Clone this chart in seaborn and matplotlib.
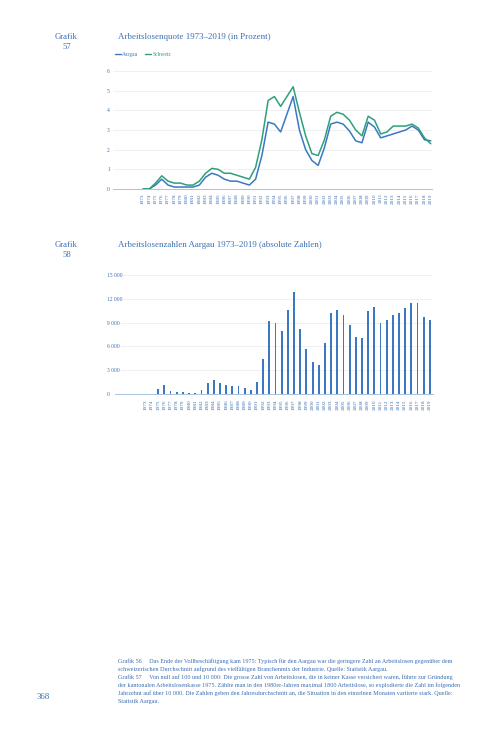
import pandas as pd
import matplotlib.pyplot as plt
import matplotlib.lines as mlines
import seaborn as sns

# Jahre 1973-2019
jahre = list(range(1973, 2020))

# Arbeitslosenquote in Prozent
quote_aargau = [0.0, 0.0, 0.2, 0.5, 0.2, 0.1, 0.1, 0.1, 0.1, 0.2,
                0.6, 0.8, 0.7, 0.5, 0.4, 0.4, 0.3, 0.2, 0.5, 1.7,
                3.4, 3.3, 2.9, 3.8, 4.7, 3.0, 2.0, 1.45, 1.2, 2.1,
                3.3, 3.4, 3.3, 2.95, 2.45, 2.35, 3.4, 3.15, 2.6, 2.7,
                2.8, 2.9, 3.0, 3.2, 3.0, 2.5, 2.45]
quote_schweiz = [0.0, 0.0, 0.3, 0.67, 0.4, 0.3, 0.3, 0.2, 0.2, 0.4,
                 0.8, 1.05, 1.0, 0.8, 0.8, 0.7, 0.6, 0.5, 1.1, 2.5,
                 4.5, 4.7, 4.2, 4.7, 5.2, 3.9, 2.7, 1.8, 1.7, 2.5,
                 3.7, 3.9, 3.8, 3.5, 3.0, 2.7, 3.7, 3.5, 2.8, 2.9,
                 3.2, 3.2, 3.2, 3.3, 3.1, 2.6, 2.3]

# Arbeitslose Aargau, absolute Zahlen
arbeitslose = [20, 60, 670, 1090, 330, 250, 210, 170, 130, 540,
               1380, 1800, 1420, 1170, 1000, 960, 750, 540, 1460, 4460,
               9180, 8920, 7920, 10570, 12800, 8250, 5720, 4040, 3660, 6440,
               10230, 10570, 9930, 8750, 7240, 7030, 10400, 10950, 8920, 9390,
               9930, 10150, 10860, 11490, 11490, 9720, 9300]

y_ticks_quote = [0, 1, 2, 3, 4, 5, 6]
y_ticks_zahl = [0, 3000, 6000, 9000, 12000, 15000]
y_labels_zahl = ["0", "3 000", "6 000", "9 000", "12 000", "15 000"]

blau = "#3a78c2"
gruen = "#2e9f7c"
text_blau = "#3c6fb3"
hell = "#a9c1e0"

df_quote = pd.DataFrame({
    "Jahr": jahre * 2,
    "Prozent": quote_aargau + quote_schweiz,
    "Region": ["Aargau"] * len(jahre) + ["Schweiz"] * len(jahre),
})
df_zahl = pd.DataFrame({"Jahr": jahre, "Arbeitslose": arbeitslose})

sns.set_theme(style="white")
plt.rcParams["font.family"] = ["Liberation Serif", "DejaVu Serif"]

W, H = 504, 733
fig = plt.figure(figsize=(W / 100, H / 100), dpi=100)


def fx(px):
    return px / W


def fy(py):
    return 1 - py / H


def style_axes(ax, yticks, ylabels, pad_px):
    ax.set_yticks(yticks)
    ax.set_yticklabels(ylabels)
    ax.yaxis.grid(True, color="#eeeeee", linewidth=0.6)
    ax.xaxis.grid(False)
    for s in ["top", "right", "left"]:
        ax.spines[s].set_visible(False)
    ax.spines["bottom"].set_color(hell)
    ax.spines["bottom"].set_linewidth(0.7)
    ax.tick_params(axis="y", length=0, pad=pad_px * 0.72, labelsize=4, labelcolor=text_blau)
    for lab in ax.get_yticklabels():
        lab.set_horizontalalignment("left")
        lab.set_bbox(dict(facecolor="white", edgecolor="none", pad=0.6))
    ax.set_xlabel("")
    ax.set_ylabel("")


# --- Grafik 57: Arbeitslosenquote ---
ax1 = fig.add_axes([fx(113), fy(189), fx(432 - 113), (189 - 71) / H])
sns.lineplot(data=df_quote, x="Jahr", y="Prozent", hue="Region",
             palette={"Aargau": blau, "Schweiz": gruen}, linewidth=1.1,
             legend=False, ax=ax1)
ax1.set_xlim(1968.2, 2019.2)
ax1.set_ylim(0, 6)
style_axes(ax1, y_ticks_quote, [str(v) for v in y_ticks_quote], 6)
ax1.set_xticks(jahre)
ax1.set_xticklabels([str(j) for j in jahre], rotation=90)
ax1.tick_params(axis="x", direction="in", length=2, width=0.5, color=hell,
                pad=3, labelsize=3.8, labelcolor=text_blau)

leg = ax1.legend(
    handles=[mlines.Line2D([], [], color=blau, lw=1.0, label="Aargau"),
             mlines.Line2D([], [], color=gruen, lw=1.0, label="Schweiz")],
    loc="upper left", bbox_to_anchor=(fx(115), fy(52)), bbox_transform=fig.transFigure,
    ncol=2, frameon=False, fontsize=4, handlelength=1.0, handletextpad=0.3,
    columnspacing=1.2, borderpad=0, borderaxespad=0)
leg.get_texts()[0].set_color(blau)
leg.get_texts()[1].set_color(gruen)

# --- Grafik 58: Arbeitslosenzahlen ---
ax2 = fig.add_axes([fx(115), fy(394), fx(433 - 115), (394 - 275) / H])
sns.barplot(data=df_zahl, x="Jahr", y="Arbeitslose", native_scale=True,
            width=0.3, color=blau, saturation=1, errorbar=None,
            linewidth=0, ax=ax2)
ax2.set_xlim(1968.0, 2019.5)
ax2.set_ylim(0, 15000)
style_axes(ax2, y_ticks_zahl, y_labels_zahl, 8)
ax2.set_xticks(jahre)
ax2.set_xticklabels([str(j) for j in jahre], rotation=90)
ax2.set_xticks([j - 0.5 for j in jahre] + [2019.5], minor=True)
ax2.tick_params(axis="x", which="major", length=0, pad=4,
                labelsize=3.8, labelcolor=text_blau)
ax2.tick_params(axis="x", which="minor", direction="in", length=2,
                width=0.5, color=hell)

# --- Texte ---
fig.text(fx(66), fy(37), "Grafik", fontsize=6.2, color=text_blau, ha="center", va="center")
fig.text(fx(67), fy(47), "57", fontsize=6.2, color=text_blau, ha="center", va="center")
fig.text(fx(118), fy(37), "Arbeitslosenquote 1973–2019 (in Prozent)",
         fontsize=6.4, color=text_blau, ha="left", va="center")
fig.text(fx(66), fy(245), "Grafik", fontsize=6.2, color=text_blau, ha="center", va="center")
fig.text(fx(67), fy(255), "58", fontsize=6.2, color=text_blau, ha="center", va="center")
fig.text(fx(118), fy(245), "Arbeitslosenzahlen Aargau 1973–2019 (absolute Zahlen)",
         fontsize=6.4, color=text_blau, ha="left", va="center")

caption = [
    "Grafik 56     Das Ende der Vollbeschäftigung kam 1975: Typisch für den Aargau war die geringere Zahl an Arbeitslosen gegenüber dem",
    "schweizerischen Durchschnitt aufgrund des vielfältigen Branchenmix der Industrie. Quelle: Statistik Aargau.",
    "Grafik 57     Von null auf 100 und 10 000: Die grosse Zahl von Arbeitslosen, die in keiner Kasse versichert waren, führte zur Gründung",
    "der kantonalen Arbeitslosenkasse 1975. Zählte man in den 1980er-Jahren maximal 1800 Arbeitslose, so explodierte die Zahl im folgenden",
    "Jahrzehnt auf über 10 000. Die Zahlen geben den Jahresdurchschnitt an, die Situation in den einzelnen Monaten variierte stark. Quelle:",
    "Statistik Aargau.",
]
for i, zeile in enumerate(caption):
    fig.text(fx(118), fy(661 + i * 8), zeile, fontsize=4.4, color=text_blau,
             ha="left", va="center")
fig.text(fx(37), fy(697), "368", fontsize=6.4, color=text_blau, ha="left", va="center")

fig.savefig("out.png", dpi=100, facecolor="white")
